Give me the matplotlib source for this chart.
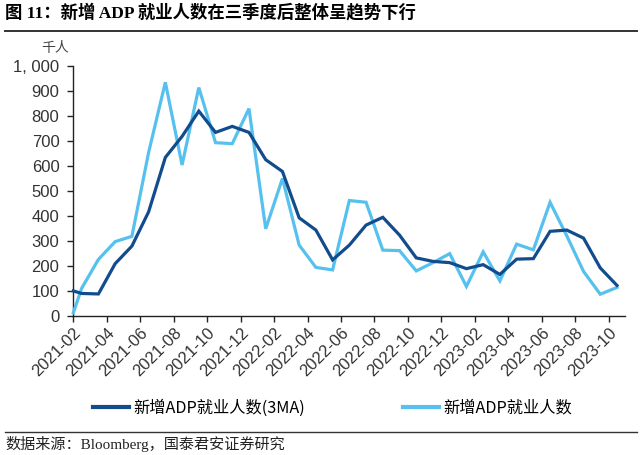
import numpy as np
import matplotlib
matplotlib.use('Agg')
import matplotlib.pyplot as plt
from matplotlib.lines import Line2D

plt.rcParams['font.family'] = ['Liberation Sans', 'Noto Sans CJK SC', 'DejaVu Sans']

# month labels for the x axis ticks (every 2 months)
tick_labels = ['2021-02', '2021-04', '2021-06', '2021-08', '2021-10', '2021-12',
               '2022-02', '2022-04', '2022-06', '2022-08', '2022-10', '2022-12',
               '2023-02', '2023-04', '2023-06', '2023-08', '2023-10']
y_ticks = [0, 100, 200, 300, 400, 500, 600, 700, 800, 900, 1000]
y_tick_labels = ['0', '100', '200', '300', '400', '500', '600', '700', '800', '900', '1, 000']

# values at the left edge of the axis (line starts there)
start_3ma = 102
start_monthly = 15

# monthly values, 33 months, 2021-02 .. 2023-10 (thousand people)
adp_3ma = [92, 90, 211, 281, 418, 635, 719, 820, 735, 759, 735, 626, 579, 394, 345,
           226, 285, 365, 396, 325, 234, 220, 215, 191, 207, 168, 229, 231, 340, 345,
           313, 194, 124]
adp_monthly = [113, 228, 299, 320, 655, 935, 605, 914, 694, 690, 830, 350, 551, 285, 196,
               186, 463, 456, 265, 263, 182, 215, 251, 120, 258, 142, 289, 266, 456, 322,
               180, 89, 116]

n = len(adp_3ma)
x = np.concatenate([[0], np.arange(n) + 0.5])
y_3ma = [start_3ma] + adp_3ma
y_monthly = [start_monthly] + adp_monthly

dark = '#124C8C'
light = '#56C1EE'

fig = plt.figure(figsize=(6.4, 4.55), dpi=100)
ax = fig.add_axes([0.1146, 0.3044, 0.8625, 0.5505])

ax.plot(x, y_monthly, color=light, lw=2.3, solid_joinstyle='miter', clip_on=False, zorder=3)
ax.plot(x, y_3ma, color=dark, lw=2.3, solid_joinstyle='miter', clip_on=False, zorder=4)

ax.set_xlim(0, n)
ax.set_ylim(0, 1000)
ax.set_yticks(y_ticks)
ax.set_yticklabels(y_tick_labels)
ax.set_xticks(np.arange(0, 2 * len(tick_labels), 2))
ax.set_xticklabels(tick_labels, rotation=45, ha='right', rotation_mode='anchor')

for s in ['top', 'right']:
    ax.spines[s].set_visible(False)
for s in ['left', 'bottom']:
    ax.spines[s].set_color('#222222')
    ax.spines[s].set_linewidth(1.0)
ax.tick_params(axis='both', colors='#222222', labelcolor='#333333', labelsize=12,
               length=4, width=1.0, direction='out')
ax.tick_params(axis='x', pad=2)
ax.tick_params(axis='y', pad=6)

ax.text(-0.008, 1.045, '千人', transform=ax.transAxes, fontsize=10,
        color='#444444', ha='right', va='bottom', family=['Noto Sans CJK SC'])

# legend
handles = [Line2D([0], [0], color=dark, lw=3),
           Line2D([0], [0], color=light, lw=3)]
fig.legend(handles, ['新增ADP就业人数(3MA)', '新增ADP就业人数'], loc='center',
           bbox_to_anchor=(0.52, 0.103), ncol=2, frameon=False,
           handlelength=2.2, columnspacing=6.0, handletextpad=0.3,
           prop={'family': ['Noto Sans CJK SC'], 'size': 11.7, 'weight': 'light'})

# title and footer
fig.text(0.008, 0.972, '图 11：新增 ADP 就业人数在三季度后整体呈趋势下行', fontsize=12.5,
         weight='bold', va='center', ha='left',
         family=['Liberation Serif', 'Noto Sans CJK SC'])
fig.add_artist(Line2D([0.008, 0.995], [0.932, 0.932], color='#333333', lw=1.4,
                      transform=fig.transFigure))
fig.add_artist(Line2D([0.008, 0.995], [0.051, 0.051], color='#333333', lw=1.0,
                      transform=fig.transFigure))
fig.text(0.008, 0.024, '数据来源：Bloomberg，国泰君安证券研究', fontsize=10.9,
         va='center', ha='left', color='#222222',
         family=['Liberation Serif', 'Noto Sans CJK SC'])

fig.savefig('out.png', dpi=100)
